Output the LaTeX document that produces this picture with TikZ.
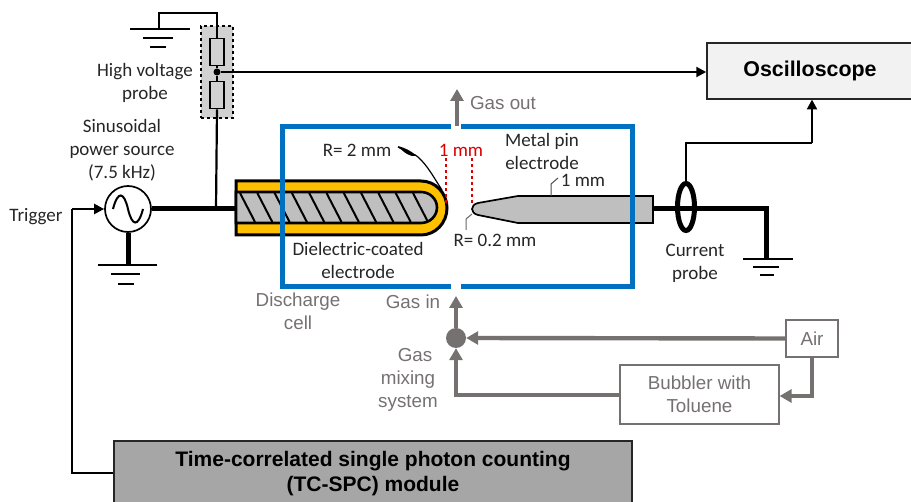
\documentclass[tikz,border=0pt]{standalone}
\usepackage{fontspec}
\setmainfont{Carlito}
\newfontfamily\arialfont{Liberation Sans}
\usetikzlibrary{arrows.meta,positioning,shapes.geometric}

\begin{document}
\begin{tikzpicture}[
	x=1pt,y=-1pt,
	label/.style={inner sep=0pt, align=center, text=black!85, font=\fontsize{19}{23}\selectfont},
	graylabel/.style={inner sep=0pt, align=center, text=gasgray, font=\arialfont\fontsize{18.8}{23}\selectfont},
	scope/.style={rectangle, draw=black!85, line width=1.5pt, fill=black!5, minimum width=206pt, minimum height=56pt, inner sep=0pt, font=\arialfont\fontsize{21.4}{23}\selectfont\bfseries},
	module/.style={rectangle, draw=black!85, line width=1.5pt, fill=black!35, minimum width=518pt, minimum height=74pt, inner sep=0pt},
	gasbox/.style={rectangle, draw=gasgray, line width=1.2pt, fill=white, inner sep=0pt, align=center, text=gasgray, font=\arialfont\fontsize{18.8}{23}\selectfont},
	resistor/.style={rectangle, draw=black, line width=1.7pt, fill=black!18, minimum width=14pt, minimum height=27pt, inner sep=0pt},
	signal/.style={-{Triangle[length=10pt,width=10pt]}, line width=2.2pt, black},
	wire/.style={line width=2.2pt, black},
	power/.style={line width=5pt, black},
	earth/.style={line width=2.4pt, black},
	gas/.style={-{Triangle[length=12pt,width=13pt]}, line width=4.4pt, gasgray},
	gapline/.style={line width=1.4pt, red!85!black, dashed}
]
\definecolor{gasgray}{HTML}{767171}
\definecolor{cellblue}{HTML}{0070C0}
\definecolor{coatyellow}{HTML}{FFC000}
\path[use as bounding box, clip] (0,0) rectangle (911,502);

% high voltage probe
\node[rectangle, draw=black, dashed, line width=1.2pt, fill=black!18, minimum width=32pt, minimum height=92pt, inner sep=0pt] (hvbox) at (217,72) {};
\node[resistor] (rup) at (217,52) {};
\node[resistor] (rlow) at (217,95) {};
\node[circle, fill=black, minimum size=7pt, inner sep=0pt] (tap) at (217,72) {};
\coordinate (hvjoin) at (216,209);
\coordinate (topbend) at (217,13);
\coordinate (gndbend) at (159,13);

% top ground
\coordinate (gnda) at (159,29);
\draw[earth] (130,29) -- (190,29);
\draw[earth] (143,38) -- (173,38);
\draw[earth] (150,47) -- (166,47);
\draw[wire] (gnda) -- (gndbend) -- (topbend) -- (rup.north);
\draw[wire] (rup.south) -- (tap) -- (rlow.north);
\draw[wire] (rlow.south) -- (hvjoin);

% electrode
\draw[line width=3pt, fill=coatyellow] (236,181) -- (421,181) arc (90:-90:26pt and 27pt) -- (236,235) -- cycle;
\draw[line width=2.6pt, fill=black!25] (236,192) -- (421,192) arc (90:-90:16pt and 15.5pt) -- (236,223) -- cycle;
\foreach \hx in {240,257.3,...,415}
	\draw[line width=2pt] (\hx,193) -- (\hx+15,222);

% pin electrode
\draw[line width=1.7pt, fill=black!25] (653,196) -- (518,196) -- (478,203) .. controls (470,205) and (470,213) .. (478,215) -- (518,223) -- (653,223) -- cycle;

% discharge cell
\draw[cellblue, line width=5pt] (451,127) -- (282,127) -- (282,287) -- (451,287);
\draw[cellblue, line width=5pt] (461,127) -- (632,127) -- (632,287) -- (461,287);

% source
\node[circle, draw=black, line width=1.7pt, fill=white, minimum size=46pt, inner sep=0pt] (source) at (128,209) {};
\draw[line width=2pt] (113,209) .. controls (118,190) and (124,192) .. (128,209) .. controls (132,226) and (138,228) .. (143,209);
\coordinate (elecin) at (236,209);
\draw[power] (source.east) -- (hvjoin) -- (elecin);
\coordinate (gndb) at (128,265);
\draw[power] (source.south) -- (gndb);
\draw[earth] (98,265) -- (157,265);
\draw[earth] (111,274) -- (140,274);
\draw[earth] (118,284) -- (134,284);

% right side
\node[scope] (scope) at (810,71) {Oscilloscope};
\draw[signal] (tap) -- (tap -| scope.west);
\coordinate (pinout) at (653,209);
\coordinate (rightbend) at (766,209);
\coordinate (gndc) at (766,259);
\draw[power] (pinout) -- (rightbend) -- (gndc);
\draw[earth] (743,259) -- (793,259);
\draw[earth] (753,267) -- (779,267);
\draw[earth] (760,275) -- (774,275);
\node[ellipse, draw=black, line width=5pt, minimum width=17pt, minimum height=47pt, inner sep=0pt] (ring) at (686,207) {};
\coordinate (ringbenda) at (686,143);
\coordinate (ringbendb) at (812,143);
\draw[wire] (ring.north) -- (ringbenda) -- (ringbendb);
\draw[signal] (ringbendb) -- (812,99.5);

% module and trigger
\node[module] (tcspc) at (373,478) {};
\node[font=\arialfont\fontsize{21}{25}\selectfont\bfseries, align=center, inner sep=0pt] (tctext) at (373,473.5) {Time-correlated single photon counting\\(TC-SPC) module};
\coordinate (trigbenda) at (72,473);
\coordinate (trigbendb) at (72,209);
\draw[wire] (tcspc.west |- trigbenda) -- (trigbenda) -- (trigbendb);
\draw[signal] (trigbendb) -- (source.west);

% gas
\node[circle, fill=gasgray, minimum size=20pt, inner sep=0pt] (mix) at (456,338) {};
\node[gasbox, minimum width=52pt, minimum height=37pt] (air) at (812,338.5) {Air};
\node[gasbox, minimum width=159pt, minimum height=59pt] (bubbler) at (699.5,394.5) {Bubbler with\\Toluene};
\coordinate (cellin) at (456,296);
\coordinate (cellout) at (457,126);
\coordinate (gasouttip) at (457,89);
\coordinate (airbend) at (812,396);
\coordinate (bubbend) at (456,395);
\draw[gas] (mix) -- (cellin);
\draw[gas] (air.west) -- (mix.east);
\draw[gas] (air.south) -- (airbend) -- (bubbler.east |- airbend);
\draw[gas] (bubbler.west |- bubbend) -- (bubbend) -- (mix.south);
\draw[gas] (cellout) -- (gasouttip);

% gap and leaders
\draw[gapline] (446,158) -- (446,203);
\draw[gapline] (472,158) -- (472,203);
\draw[line width=1.2pt] (398,147) .. controls (408,153) and (414,153) .. (418,157) .. controls (428,166) and (434,178) .. (442,190);
\fill (398,146) .. controls (405,148) and (412,151) .. (416,156) .. controls (410,157) and (404,153) .. cycle;
\draw[line width=1pt, black!70] (551,196) -- (551,184) -- (558,178);
\draw[line width=1pt, black!60] (466,230) -- (466,219) -- (472,214);

% labels
\node[label] (hvlabel) at (145,83) {High voltage\\probe};
\node[label] (srclabel) at (122,150) {Sinusoidal\\power source\\(7.5 kHz)};
\node[label] (triglabel) at (36,217) {Trigger};
\node[label] (rbig) at (357,150) {R= 2 mm};
\node[label, text=red!85!black] (gaplabel) at (461,150) {1 mm};
\node[label] (pinlabel) at (542,151) {Metal pin\\electrode};
\node[label] (pinwidth) at (583,180) {1 mm};
\node[label] (coatlabel) at (358,260) {Dielectric-coated\\electrode};
\node[label] (rsmall) at (495,240) {R= 0.2 mm};
\node[label] (ringlabel) at (695,263) {Current\\probe};
\node[graylabel] (outlabel) at (503,103) {Gas out};
\node[graylabel] (celllabel) at (298,311) {Discharge\\cell};
\node[graylabel] (inlabel) at (413,302) {Gas in};
\node[graylabel] (mixlabel) at (408,380) {\hspace*{14pt}Gas\\mixing\\system};
\end{tikzpicture}
\end{document}
